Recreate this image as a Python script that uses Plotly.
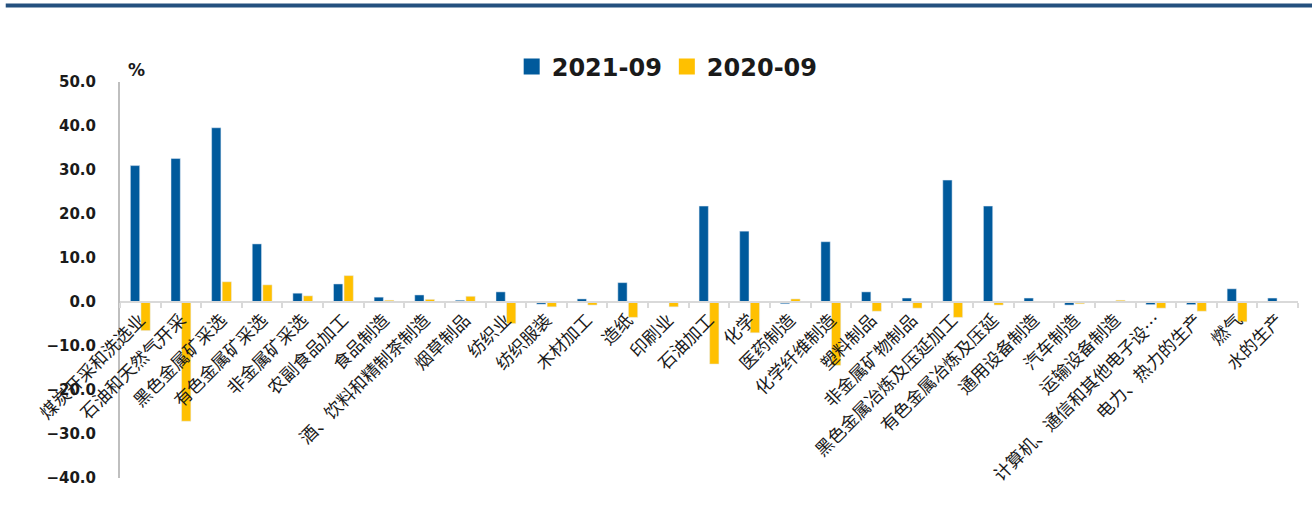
import plotly.graph_objects as go

categories = [
    "煤炭开采和洗选业", "石油和天然气开采", "黑色金属矿采选", "有色金属矿采选", "非金属矿采选",
    "农副食品加工", "食品制造", "酒、饮料和精制茶制造", "烟草制品", "纺织业",
    "纺织服装", "木材加工", "造纸", "印刷业", "石油加工",
    "化学", "医药制造", "化学纤维制造", "塑料制品", "非金属矿物制品",
    "黑色金属冶炼及压延加工", "有色金属冶炼及压延", "通用设备制造", "汽车制造", "运输设备制造",
    "计算机、通信和其他电子设…", "电力、热力的生产", "燃气", "水的生产",
]
s2021 = [31.0, 32.6, 39.6, 13.2, 2.0, 4.1, 1.1, 1.6, 0.4, 2.3,
         -0.5, 0.7, 4.4, 0.0, 21.8, 16.1, -0.4, 13.7, 2.3, 0.9,
         27.7, 21.8, 0.9, -0.7, 0.0, -0.6, -0.6, 3.0, 0.9]
s2020 = [-6.5, -27.1, 4.6, 3.9, 1.4, 6.0, 0.4, 0.6, 1.3, -4.9,
         -1.1, -0.7, -3.5, -1.1, -14.1, -7.0, 0.7, -14.4, -2.1, -1.4,
         -3.5, -0.7, 0.0, -0.4, 0.4, -1.4, -2.1, -4.5, 0.0]
y_ticks = [50, 40, 30, 20, 10, 0, -10, -20, -30, -40]
series_names = ["2021-09", "2020-09"]

BLUE = "#005A9C"
GOLD = "#FFC000"
TXT = "#1A1A1A"

fig = go.Figure()
for name, vals, col in [(series_names[0], s2021, BLUE), (series_names[1], s2020, GOLD)]:
    fig.add_trace(go.Bar(name=name, x=categories, y=vals, marker_color=col,
                         showlegend=False, legendgroup=name))
# legend entries with larger square swatches
for name, col in [(series_names[0], BLUE), (series_names[1], GOLD)]:
    fig.add_trace(go.Scatter(name=name, x=[None], y=[None], mode="markers",
                             marker=dict(symbol="square", size=16, color=col),
                             legendgroup=name, hoverinfo="skip"))

ymin, ymax = -40, 50
zero_pos = (0 - ymin) / (ymax - ymin)

fig.update_layout(
    width=1312, height=513,
    margin=dict(l=120, r=14, t=82, b=35),
    paper_bgcolor="white", plot_bgcolor="white",
    barmode="group", bargap=0.48, bargroupgap=0.12,
    font=dict(family="Noto Sans CJK SC", color=TXT),
    legend=dict(
        orientation="h", x=0.4645, xanchor="center", y=1.038, yanchor="middle",
        font=dict(family="DejaVu Sans", size=24, weight="bold", color=TXT),
        itemwidth=30, bgcolor="rgba(0,0,0,0)",
    ),
    xaxis=dict(
        type="category", anchor="free", position=zero_pos,
        showline=True, linecolor="#D9D9D9", linewidth=2,
        ticks="outside", tickson="boundaries", ticklen=5, tickcolor="#D9D9D9", tickwidth=2,
        tickangle=-45, tickfont=dict(family="Noto Sans CJK SC", size=17.5, color=TXT),
        showgrid=False, zeroline=False,
    ),
    yaxis=dict(
        range=[ymin, ymax], tickvals=y_ticks, tickformat=".1f",
        showline=True, linecolor="#BFBFBF", linewidth=2,
        showgrid=False, zeroline=False, ticks="",
        ticklabelstandoff=19,
        tickfont=dict(family="DejaVu Sans", size=15, weight="bold", color=TXT),
    ),
    shapes=[dict(
        type="line", xref="paper", yref="paper",
        x0=-0.097, x1=1.012, y0=1.193, y1=1.193,
        line=dict(color="#24507E", width=4),
    )],
    annotations=[dict(
        text="%", xref="paper", yref="paper", x=0.0136, y=1.030,
        xanchor="center", yanchor="middle", showarrow=False,
        font=dict(family="DejaVu Sans", size=17, weight="bold", color=TXT),
    )],
)

fig.write_html("out.html")
